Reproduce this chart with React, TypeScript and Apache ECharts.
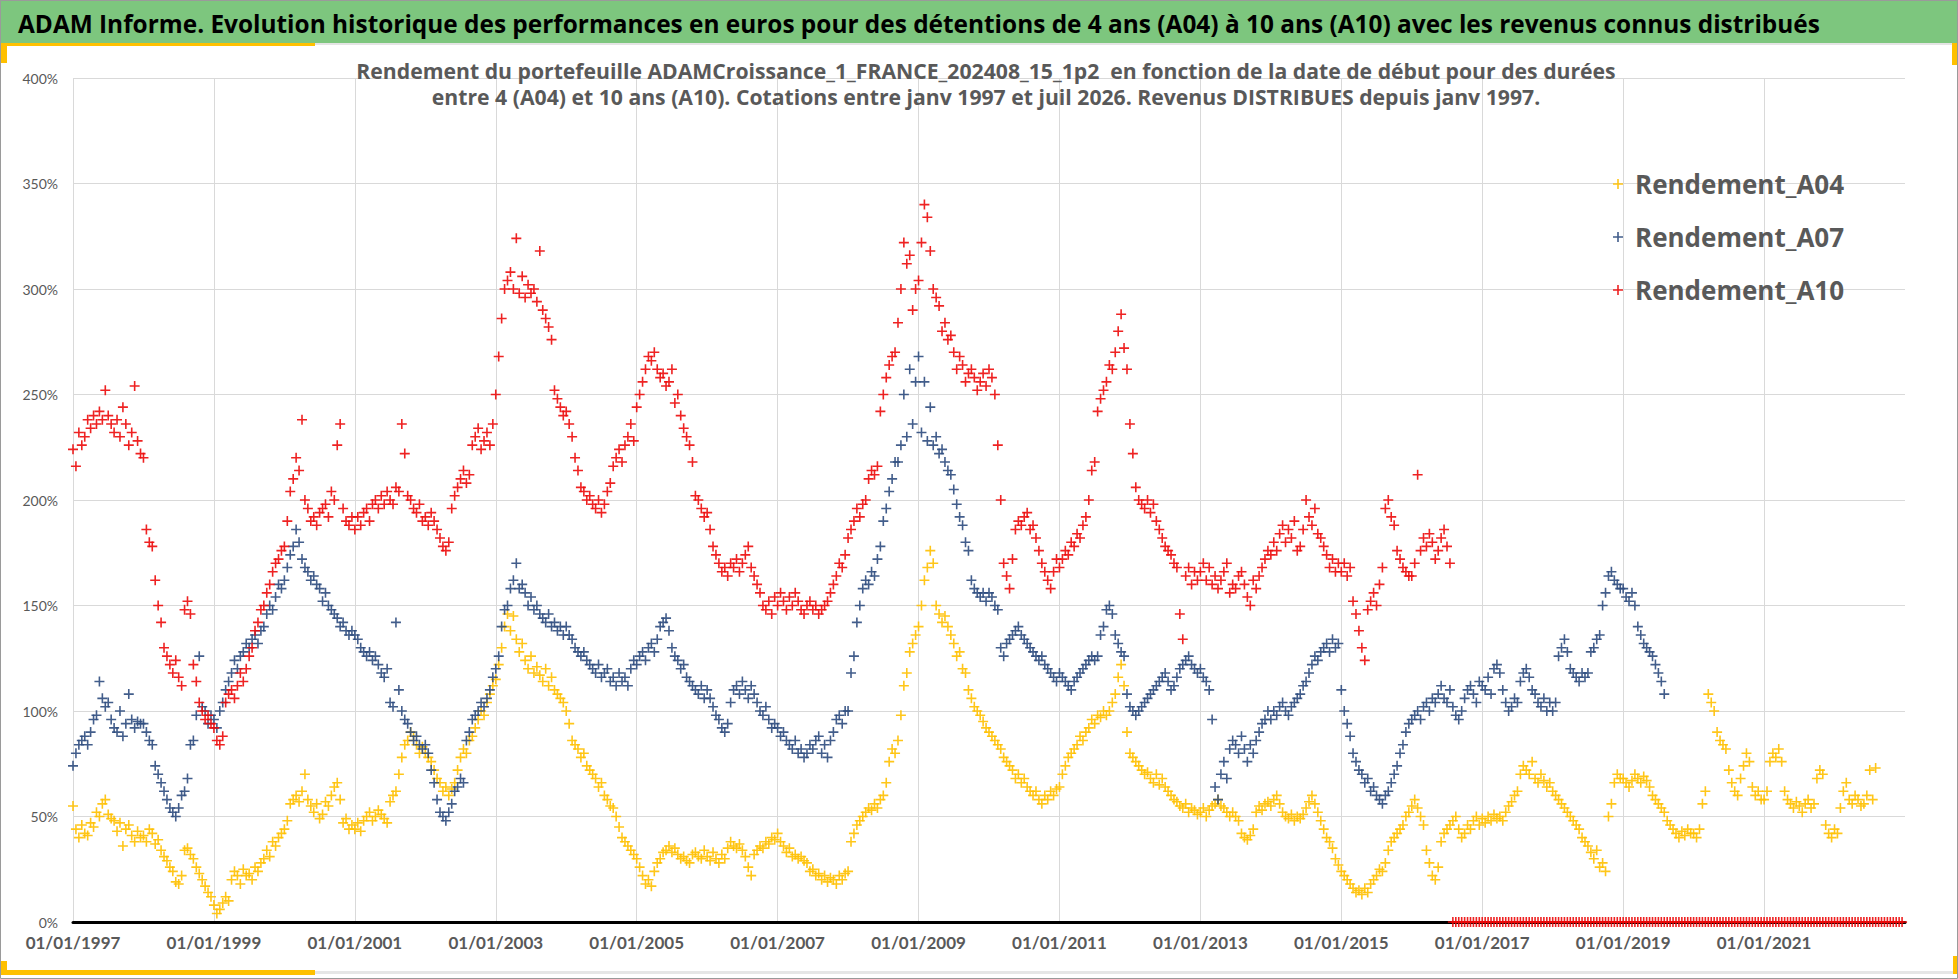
import React, { useEffect, useRef } from 'react';
import * as echarts from 'echarts';

// first year of the date axis, values are read twice a month
const FIRST_YEAR = 1997;
const STEPS_PER_YEAR = 24;
const AXIS_YEARS = 26;

const SERIES_NAMES = ['Rendement_A04', 'Rendement_A07', 'Rendement_A10'];
const SERIES_COLORS = ['#FFC000', '#2E4B7E', '#EC0A0A'];

const MAIN_TITLE =
  'ADAM Informe. Evolution historique des performances en euros pour des détentions de 4 ans (A04) à 10 ans (A10) avec les revenus connus distribués';
const SUB_TITLE = [
  'Rendement du portefeuille ADAMCroissance_1_FRANCE_202408_15_1p2  en fonction de la date de début pour des durées',
  'entre 4 (A04) et 10 ans (A10). Cotations entre janv 1997 et juil 2026. Revenus DISTRIBUES depuis janv 1997.',
];

// rendement en %, une ligne par année (1997, 1998, ...)
const A04 = [
  [55, 44, 40, 46, 42, 41, 47, 45, 52, 50, 56, 58, 51, 49, 48, 43, 47, 36, 44, 46, 41, 38, 43, 40],
  [41, 38, 44, 42, 37, 39, 34, 31, 29, 26, 24, 19, 18, 22, 34, 35, 32, 30, 26, 23, 20, 17, 14, 12],
  [8, 4, 6, 9, 12, 10, 20, 24, 22, 18, 25, 22, 23, 20, 26, 24, 28, 30, 34, 31, 38, 36, 40, 42],
  [44, 48, 56, 58, 60, 57, 62, 70, 58, 55, 52, 56, 49, 51, 57, 55, 60, 64, 66, 58, 47, 49, 44, 46],
  [44, 47, 43, 48, 50, 52, 48, 50, 53, 51, 49, 47, 57, 60, 62, 70, 78, 84, 86, 90, 88, 84, 80, 83],
  [80, 78, 76, 72, 68, 66, 62, 64, 60, 63, 66, 72, 78, 82, 80, 86, 88, 92, 96, 100, 98, 104, 108, 112],
  [115, 122, 130, 140, 146, 138, 145, 134, 128, 132, 124, 120, 126, 118, 121, 117, 114, 120, 112, 116, 110, 108, 106, 104],
  [100, 94, 86, 84, 82, 78, 80, 74, 72, 70, 68, 64, 66, 60, 58, 55, 54, 50, 45, 40, 38, 36, 34, 32],
  [30, 26, 22, 18, 20, 17, 24, 28, 30, 33, 34, 36, 33, 35, 32, 30, 31, 29, 28, 32, 33, 31, 30, 34],
  [31, 29, 33, 30, 28, 32, 30, 35, 38, 36, 35, 37, 34, 31, 26, 22, 32, 34, 36, 35, 38, 37, 40, 39],
  [42, 38, 36, 33, 35, 31, 32, 30, 31, 29, 28, 24, 25, 22, 23, 20, 22, 19, 21, 20, 18, 22, 20, 23],
  [24, 38, 42, 46, 48, 50, 52, 54, 53, 56, 54, 58, 60, 66, 76, 82, 80, 86, 98, 112, 118, 128, 132, 136],
  [140, 150, 162, 168, 176, 170, 150, 146, 142, 145, 140, 136, 132, 126, 128, 120, 118, 110, 106, 102, 100, 98, 95, 92],
  [90, 88, 86, 84, 82, 78, 76, 74, 72, 68, 70, 66, 68, 64, 62, 60, 62, 58, 56, 60, 58, 62, 60, 63],
  [64, 70, 74, 78, 80, 82, 84, 88, 86, 90, 92, 96, 94, 98, 97, 100, 98, 100, 104, 108, 116, 122, 112, 90],
  [80, 78, 76, 74, 72, 70, 71, 68, 66, 70, 65, 68, 64, 62, 60, 58, 57, 55, 54, 56, 52, 54, 53, 51],
  [52, 54, 50, 53, 55, 56, 58, 55, 54, 52, 50, 52, 50, 48, 42, 40, 39, 41, 44, 52, 55, 53, 56, 57],
  [55, 58, 60, 56, 52, 50, 49, 51, 48, 50, 49, 51, 54, 57, 60, 56, 52, 48, 44, 40, 38, 35, 30, 27],
  [24, 22, 20, 18, 16, 14, 15, 13, 16, 14, 18, 20, 22, 25, 24, 28, 34, 38, 40, 42, 44, 46, 50, 52],
  [55, 58, 54, 50, 46, 34, 28, 22, 20, 26, 38, 42, 44, 46, 48, 50, 44, 40, 42, 46, 44, 48, 50, 46],
  [49, 47, 50, 48, 51, 49, 50, 48, 52, 55, 57, 60, 62, 70, 74, 72, 70, 76, 68, 66, 70, 67, 64, 66],
  [62, 60, 58, 56, 54, 52, 50, 48, 46, 44, 40, 38, 36, 33, 30, 34, 26, 28, 24, 50, 56, 66, 70, 68],
  [68, 66, 64, 67, 70, 68, 66, 69, 67, 64, 60, 58, 56, 54, 52, 48, 46, 44, 42, 40, 43, 41, 44, 42],
  [42, 40, 44, 56, 62, 108, 104, 100, 90, 86, 84, 82, 72, 66, 62, 60, 68, 74, 80, 76, 64, 60, 62, 58],
  [58, 62, 76, 80, 78, 82, 76, 62, 58, 56, 54, 57, 55, 52, 56, 58, 54, 56, 68, 72, 70, 46, 42, 40],
  [44, 42, 54, 62, 66, 58, 56, 60, 58, 55, 56, 60, 72, 58, 73],
];

const A07 = [
  [74, 80, 84, 86, 88, 84, 90, 96, 98, 114, 106, 102, 104, 96, 92, 90, 100, 88, 94, 108, 96, 92, 95, 94],
  [94, 90, 86, 84, 74, 70, 66, 62, 58, 54, 52, 50, 54, 60, 62, 68, 84, 86, 98, 126, 102, 100, 94, 98],
  [96, 92, 100, 104, 110, 114, 118, 124, 120, 126, 128, 132, 130, 134, 136, 132, 138, 140, 146, 150, 148, 154, 160, 158],
  [162, 168, 174, 178, 186, 180, 172, 168, 166, 162, 164, 160, 158, 152, 156, 150, 148, 146, 144, 140, 142, 138, 136, 138],
  [136, 134, 130, 128, 126, 128, 124, 126, 122, 118, 116, 120, 104, 102, 142, 110, 100, 96, 94, 90, 86, 88, 84, 82],
  [84, 80, 72, 66, 58, 52, 50, 48, 52, 56, 62, 64, 68, 66, 86, 90, 96, 98, 100, 104, 102, 106, 110, 116],
  [120, 126, 140, 148, 150, 158, 162, 170, 158, 160, 156, 150, 154, 148, 150, 146, 144, 142, 146, 140, 142, 138, 140, 136],
  [140, 136, 134, 130, 128, 126, 128, 124, 122, 120, 118, 122, 116, 118, 120, 114, 116, 112, 118, 114, 116, 112, 120, 124],
  [122, 126, 128, 124, 130, 132, 128, 134, 140, 142, 144, 138, 130, 126, 124, 120, 122, 116, 114, 112, 110, 108, 112, 106],
  [110, 106, 102, 98, 96, 92, 90, 94, 104, 110, 112, 108, 114, 110, 106, 112, 108, 104, 100, 98, 102, 96, 92, 94],
  [92, 88, 90, 86, 84, 82, 86, 80, 82, 78, 80, 84, 82, 86, 88, 80, 84, 78, 86, 90, 96, 98, 94, 100],
  [100, 118, 126, 142, 150, 158, 162, 160, 166, 164, 172, 178, 190, 196, 204, 210, 218, 218, 226, 250, 230, 262, 236, 256],
  [268, 232, 256, 228, 244, 226, 230, 222, 224, 218, 214, 212, 205, 198, 192, 188, 180, 176, 162, 158, 156, 154, 156, 152],
  [156, 154, 150, 148, 130, 126, 132, 134, 136, 138, 140, 136, 134, 132, 130, 128, 126, 124, 126, 122, 120, 118, 116, 114],
  [118, 116, 114, 112, 110, 114, 116, 118, 120, 122, 124, 126, 124, 126, 136, 140, 148, 150, 146, 136, 132, 128, 126, 108],
  [102, 100, 98, 100, 102, 104, 106, 108, 110, 112, 114, 116, 118, 114, 110, 112, 116, 120, 122, 124, 126, 122, 120, 118],
  [120, 116, 114, 110, 96, 64, 58, 70, 76, 68, 82, 86, 84, 80, 88, 82, 76, 84, 80, 86, 90, 94, 96, 100],
  [96, 100, 98, 102, 104, 100, 98, 102, 104, 106, 108, 112, 114, 118, 122, 126, 124, 128, 130, 132, 128, 134, 130, 132],
  [110, 100, 94, 88, 80, 76, 72, 70, 66, 68, 62, 64, 60, 58, 56, 60, 62, 66, 70, 74, 80, 84, 90, 94],
  [96, 98, 100, 96, 102, 104, 100, 106, 104, 108, 112, 106, 104, 110, 102, 98, 96, 100, 106, 110, 112, 108, 104, 114],
  [112, 110, 116, 108, 120, 122, 118, 110, 104, 100, 102, 106, 104, 114, 118, 120, 116, 110, 108, 104, 102, 106, 100, 104],
  [100, 104, 126, 130, 134, 128, 120, 118, 116, 114, 118, 116, 118, 128, 130, 134, 136, 150, 156, 164, 166, 162, 160, 158],
  [158, 154, 152, 156, 150, 140, 136, 132, 130, 128, 126, 122, 118, 114, 108],
];

const A10 = [
  [224, 216, 232, 226, 230, 238, 234, 240, 236, 242, 238, 252, 240, 236, 232, 238, 230, 244, 236, 226, 232, 254, 228, 222],
  [220, 186, 180, 178, 162, 150, 142, 130, 126, 122, 118, 124, 116, 112, 148, 152, 146, 122, 114, 104, 100, 96, 98, 94],
  [92, 86, 84, 88, 104, 108, 110, 106, 112, 118, 114, 120, 126, 130, 138, 142, 148, 150, 156, 160, 166, 170, 172, 176],
  [178, 190, 204, 210, 220, 214, 238, 200, 196, 190, 192, 188, 194, 196, 198, 192, 204, 200, 226, 236, 196, 190, 188, 192],
  [186, 192, 188, 194, 196, 190, 198, 200, 196, 202, 198, 204, 200, 198, 206, 204, 236, 222, 202, 200, 196, 194, 198, 190],
  [192, 188, 194, 190, 186, 182, 178, 176, 180, 196, 202, 206, 210, 214, 208, 212, 226, 230, 234, 224, 228, 232, 226, 236],
  [250, 268, 286, 300, 304, 308, 300, 324, 298, 306, 296, 302, 298, 300, 294, 318, 290, 286, 282, 276, 252, 248, 244, 240],
  [242, 236, 230, 220, 214, 206, 204, 200, 202, 198, 196, 200, 194, 198, 204, 208, 216, 220, 224, 218, 226, 230, 236, 228],
  [244, 250, 256, 262, 268, 266, 270, 262, 258, 260, 254, 256, 262, 246, 250, 240, 234, 230, 226, 218, 202, 200, 196, 192],
  [194, 186, 178, 174, 170, 166, 168, 164, 170, 168, 172, 166, 170, 174, 178, 168, 164, 160, 156, 150, 148, 152, 146, 154],
  [150, 156, 152, 148, 154, 150, 156, 152, 148, 146, 150, 152, 148, 150, 146, 148, 150, 152, 156, 160, 164, 170, 168, 174],
  [182, 186, 190, 196, 192, 198, 200, 210, 214, 212, 216, 242, 250, 258, 264, 268, 270, 284, 300, 322, 312, 316, 290, 300],
  [304, 322, 340, 334, 318, 300, 296, 292, 280, 284, 276, 278, 270, 262, 268, 264, 256, 260, 262, 258, 252, 256, 260, 254],
  [262, 258, 250, 226, 200, 170, 164, 158, 172, 186, 190, 188, 192, 194, 186, 188, 182, 176, 170, 166, 162, 158, 166, 172],
  [168, 172, 176, 174, 180, 178, 184, 182, 188, 192, 200, 214, 218, 242, 248, 252, 256, 264, 262, 270, 280, 288, 272, 262],
  [236, 222, 206, 200, 198, 196, 200, 194, 198, 190, 186, 182, 178, 176, 174, 170, 168, 146, 134, 164, 168, 160, 166, 162],
  [166, 170, 162, 168, 160, 164, 158, 162, 166, 170, 156, 160, 158, 164, 166, 160, 154, 150, 162, 158, 164, 168, 172, 176],
  [174, 180, 176, 184, 188, 180, 186, 182, 190, 176, 178, 186, 200, 192, 188, 196, 184, 182, 178, 174, 168, 172, 166, 170],
  [166, 170, 164, 168, 152, 146, 138, 130, 124, 148, 152, 156, 150, 160, 168, 196, 200, 192, 188, 176, 172, 168, 166, 164],
  [164, 170, 212, 176, 182, 178, 184, 180, 172, 176, 182, 186, 178, 170],
];

// A10 après juil 2016 : plus de cotation à 10 ans, la valeur tombe à 0
const A10_ZERO_TAIL = [
  0, 0, 0, 0, 0, 0, 0, 0, 0, 0, 0, 0, 0, 0, 0, 0, 0, 0, 0, 0, 0, 0,
  0, 0, 0, 0, 0, 0, 0, 0, 0, 0, 0, 0, 0, 0, 0, 0, 0, 0, 0, 0, 0, 0,
  0, 0, 0, 0, 0, 0, 0, 0, 0, 0, 0, 0, 0, 0, 0, 0, 0, 0, 0, 0, 0, 0,
  0, 0, 0, 0, 0, 0, 0, 0, 0, 0, 0, 0, 0, 0, 0, 0, 0, 0, 0, 0, 0, 0,
  0, 0, 0, 0, 0, 0, 0, 0, 0, 0, 0, 0, 0, 0, 0, 0, 0, 0, 0, 0, 0, 0,
  0, 0, 0, 0, 0, 0, 0, 0, 0, 0, 0, 0, 0, 0, 0, 0, 0, 0, 0, 0, 0, 0,
  0, 0, 0, 0, 0, 0, 0, 0, 0, 0, 0, 0, 0, 0, 0, 0, 0, 0, 0, 0, 0, 0,
];

const PLUS = 'path://M4.2,0H5.8V10H4.2Z M0,4.2H10V5.8H0Z';
const FONT = 'Lato, "Noto Sans", sans-serif';
const TITLE_FONT = '"Open Sans", "Noto Sans", sans-serif';

const toPoints = (rows: number[][]) =>
  rows.flatMap((row, yi) => row.map((v, j) => [yi + j / STEPS_PER_YEAR, v]));

const a10Points = () => {
  const pts = toPoints(A10);
  const lastYear = A10.length - 1;
  const start = A10[lastYear].length;
  A10_ZERO_TAIL.forEach((v, k) => pts.push([lastYear + (start + k) / STEPS_PER_YEAR, v]));
  return pts;
};

const AdamChart = () => {
  const ref = useRef<HTMLDivElement>(null);

  useEffect(() => {
    if (!ref.current) return;
    const chart = echarts.init(ref.current, null, { renderer: 'svg' });

    const seriesData = [toPoints(A04), toPoints(A07), a10Points()];

    chart.setOption({
      animation: false,
      backgroundColor: '#ffffff',
      grid: { left: 73, right: 53, top: 78, bottom: 57 },
      legend: {
        data: SERIES_NAMES,
        orient: 'vertical',
        left: 1608,
        top: 166,
        itemWidth: 24,
        itemHeight: 10,
        itemGap: 27,
        selectedMode: false,
        textStyle: {
          fontFamily: TITLE_FONT,
          fontSize: 26,
          fontWeight: 'bold',
          color: '#595959',
          lineHeight: 26,
        },
      },
      xAxis: {
        type: 'value',
        min: 0,
        max: AXIS_YEARS,
        interval: 2,
        axisLine: { show: true, onZero: false, lineStyle: { color: '#000000', width: 3 } },
        axisTick: { show: false },
        splitLine: { show: true, showMaxLine: false, lineStyle: { color: '#D9D9D9', width: 1 } },
        axisLabel: {
          showMaxLabel: false,
          margin: 12,
          color: '#595959',
          fontFamily: FONT,
          fontSize: 17,
          fontWeight: 'bold',
          formatter: (v: number) => `01/01/${FIRST_YEAR + v}`,
        },
      },
      yAxis: {
        type: 'value',
        min: 0,
        max: 400,
        interval: 50,
        axisLine: { show: false },
        axisTick: { show: false },
        splitLine: { lineStyle: { color: '#D9D9D9', width: 1 } },
        axisLabel: {
          margin: 15,
          color: '#595959',
          fontFamily: FONT,
          fontSize: 14,
          formatter: '{value}%',
        },
      },
      series: SERIES_NAMES.map((name, i) => ({
        name,
        type: 'scatter',
        data: seriesData[i],
        symbol: PLUS,
        symbolSize: 10,
        silent: true,
        itemStyle: { color: SERIES_COLORS[i], opacity: 0.9 },
        z: 2 + i,
      })),
      graphic: [
        { type: 'rect', z: -1, shape: { x: 0, y: 0, width: 1958, height: 43 }, style: { fill: '#7DC67E' } },
        { type: 'rect', z: -1, shape: { x: 0, y: 43, width: 1958, height: 2 }, style: { fill: '#E4E4E4' } },
        { type: 'rect', z: 1, shape: { x: 0, y: 43, width: 315, height: 3 }, style: { fill: '#FFC000' } },
        { type: 'rect', z: 1, shape: { x: 0, y: 43, width: 7, height: 20 }, style: { fill: '#FFC000' } },
        { type: 'rect', z: 1, shape: { x: 1952, y: 43, width: 6, height: 22 }, style: { fill: '#FFC000' } },
        { type: 'rect', z: -1, shape: { x: 0, y: 971, width: 1958, height: 3 }, style: { fill: '#E6E6E6' } },
        { type: 'rect', z: 1, shape: { x: 0, y: 970, width: 315, height: 5 }, style: { fill: '#FFC000' } },
        { type: 'rect', z: 1, shape: { x: 0, y: 961, width: 7, height: 14 }, style: { fill: '#FFC000' } },
        { type: 'rect', z: 1, shape: { x: 1953, y: 956, width: 5, height: 18 }, style: { fill: '#FFC000' } },
        {
          type: 'rect',
          z: 20,
          shape: { x: 0.5, y: 0.5, width: 1957, height: 978 },
          style: { fill: 'none', stroke: '#9A9A9A', lineWidth: 1 },
        },
        {
          type: 'text',
          z: 20,
          x: 18,
          y: 23,
          style: {
            text: MAIN_TITLE,
            fill: '#000000',
            fontFamily: TITLE_FONT,
            fontSize: 24.4,
            fontWeight: 'bold',
            textVerticalAlign: 'middle',
          },
        },
        ...SUB_TITLE.map((t, i) => ({
          type: 'text',
          z: 20,
          x: 986,
          y: 70 + i * 26,
          style: {
            text: t,
            fill: '#595959',
            fontFamily: TITLE_FONT,
            fontSize: 21.2,
            fontWeight: 'bold',
            textAlign: 'center',
            textVerticalAlign: 'middle',
          },
        })),
      ],
    });

    return () => chart.dispose();
  }, []);

  return <div ref={ref} style={{ width: '1958px', height: '979px' }} />;
};

const App = () => (
  <div style={{ position: 'fixed', left: 0, top: 0, width: '1958px', height: '979px', background: '#fff' }}>
    <AdamChart />
  </div>
);

export default App;
